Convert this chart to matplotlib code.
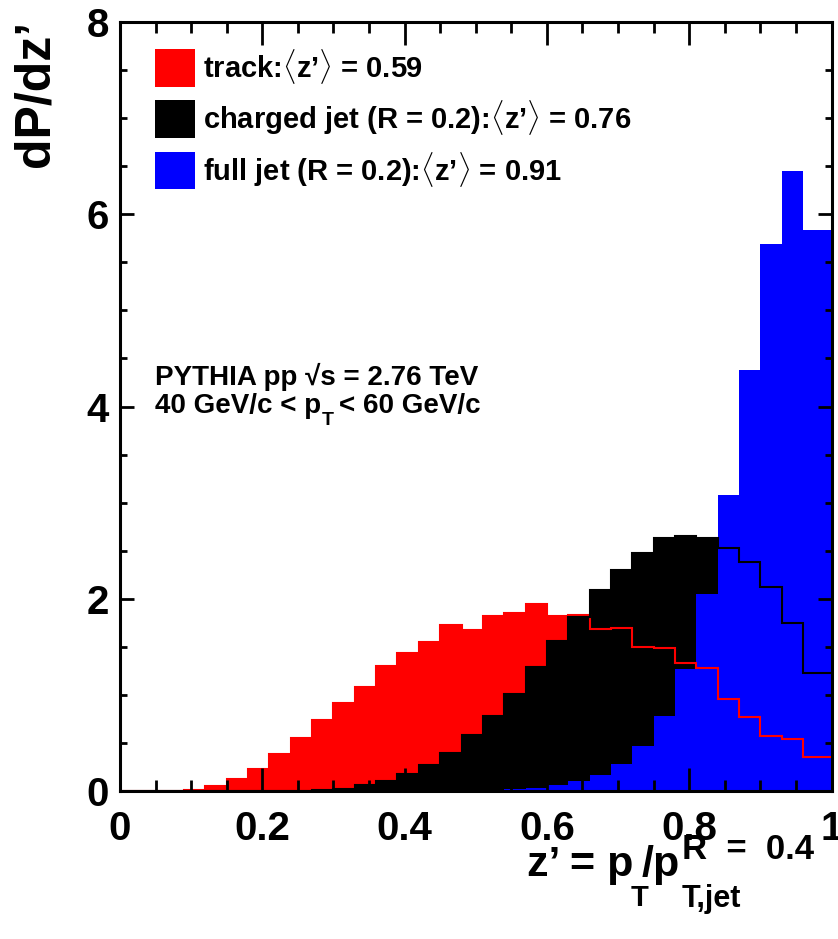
import numpy as np
import matplotlib
matplotlib.use("Agg")
import matplotlib.pyplot as plt
from matplotlib.patches import Rectangle
from matplotlib.ticker import MultipleLocator, FuncFormatter

plt.rcParams['font.family'] = ['Liberation Sans', 'DejaVu Sans']
plt.rcParams['font.weight'] = 'bold'
plt.rcParams['mathtext.fontset'] = 'custom'
plt.rcParams['mathtext.rm'] = 'Liberation Sans:bold'
plt.rcParams['mathtext.it'] = 'Liberation Sans:bold'
plt.rcParams['mathtext.bf'] = 'Liberation Sans:bold'
plt.rcParams['mathtext.sf'] = 'Liberation Sans:bold'

# bins of width 0.03 from 0 to 1.02 (last one clipped at z' = 1)
bin_width = 0.03
n_bins = 34
edges = np.arange(n_bins + 1) * bin_width

track = [0, 0.001, 0.005, 0.015, 0.05, 0.125, 0.234, 0.38, 0.547, 0.735,
         0.912, 1.083, 1.297, 1.44, 1.55, 1.727, 1.675, 1.817, 1.85, 1.946,
         1.82, 1.83, 1.69, 1.70, 1.50, 1.485, 1.33, 1.275, 0.96, 0.77,
         0.57, 0.54, 0.35, 0.35]
charged_jet = [0, 0, 0, 0, 0, 0, 0, 0, 0.004, 0.01,
               0.025, 0.06, 0.10, 0.174, 0.268, 0.40, 0.58, 0.776, 1.01, 1.29,
               1.563, 1.81, 2.087, 2.30, 2.48, 2.63, 2.65, 2.627, 2.53, 2.38,
               2.12, 1.745, 1.23, 1.23]
full_jet = [0, 0, 0, 0, 0, 0, 0, 0, 0, 0,
            0, 0, 0, 0.003, 0.005, 0.008, 0.012, 0.015, 0.025, 0.035,
            0.06, 0.10, 0.17, 0.285, 0.465, 0.776, 1.27, 2.045, 3.08, 4.375,
            5.69, 6.45, 5.84, 5.84]

labels = [u"track:$\\langle$z\u2019$\\rangle$ = 0.59",
          u"charged jet (R = 0.2):$\\langle$z\u2019$\\rangle$ = 0.76",
          u"full jet (R = 0.2):$\\langle$z\u2019$\\rangle$ = 0.91"]
colors = ['#ff0000', '#000000', '#0000ff']

W, H = 838, 939
fig = plt.figure(figsize=(W / 100, H / 100), dpi=100)
ax = fig.add_axes([120 / W, 1 - 791 / H, 711.5 / W, 769 / H])

# filled histograms, then outlines of the first two on top
ax.stairs(track, edges, fill=True, color=colors[0], lw=0)
ax.stairs(charged_jet, edges, fill=True, color=colors[1], lw=0)
ax.stairs(full_jet, edges, fill=True, color=colors[2], lw=0)
ax.stairs(track, edges, color=colors[0], lw=1.5)
ax.stairs(charged_jet, edges, color=colors[1], lw=1.5)

ax.set_xlim(0, 1)
ax.set_ylim(0, 8)
ax.xaxis.set_major_locator(MultipleLocator(0.2))
ax.xaxis.set_minor_locator(MultipleLocator(0.05))
ax.yaxis.set_major_locator(MultipleLocator(2))
ax.yaxis.set_minor_locator(MultipleLocator(0.5))
ax.xaxis.set_major_formatter(FuncFormatter(lambda v, p: '%g' % v))
ax.yaxis.set_major_formatter(FuncFormatter(lambda v, p: '%g' % v))

for s in ax.spines.values():
    s.set_linewidth(2.2)
ax.tick_params(which='both', direction='in', top=True, right=True, width=2,
               labelsize=29)
ax.tick_params(axis='x', which='major', length=16.5, pad=14)
ax.tick_params(axis='x', which='minor', length=8)
ax.tick_params(axis='y', which='major', length=10, pad=8)
ax.tick_params(axis='y', which='minor', length=5)
for lab in ax.get_xticklabels() + ax.get_yticklabels():
    lab.set_fontweight('bold')

# legend drawn by hand, ROOT style
rows_y = [86.7, 137.7, 189.0]
for lab, c, yb in zip(labels, colors, rows_y):
    fig.add_artist(Rectangle((155 / W, 1 - yb / H), 40 / W, 37.4 / H,
                             transform=fig.transFigure, color=c, lw=0))
    fig.text(203 / W, 1 - (yb - 9) / H, lab, fontsize=21, fontweight='bold',
             va='baseline', ha='left')

fig.text(155 / W, 1 - 385 / H, u"PYTHIA pp \u221as = 2.76 TeV", fontsize=20,
         fontweight='bold', va='baseline')
t_a = fig.text(155 / W, 1 - 413 / H, u"40 GeV/c < p", fontsize=20,
               fontweight='bold', va='baseline')
fig.canvas.draw()
r = fig.canvas.get_renderer()
bb = t_a.get_window_extent(r)
t_b = fig.text((bb.x1 + 1) / W, 1 - 425 / H, "T", fontsize=14,
               fontweight='bold', va='baseline')
bb = t_b.get_window_extent(r)
fig.text((bb.x1 + 5) / W, 1 - 413 / H, u"< 60 GeV/c", fontsize=20,
         fontweight='bold', va='baseline')

fig.text(13 / W, 1 - 20 / H, u"dP/dz\u2019", fontsize=36, fontweight='bold',
         rotation=90, ha='left', va='top')

# x title built piece by piece: ROOT puts sub/superscripts far apart
pieces = [(u"z\u2019 = p", 31, 876, 0), ("T", 21, 906, -3),
          ("/p", 31, 876, -7), ("T,jet", 22, 907, 2)]
x = 527.0
x_start = x
for txt, fs, yb, dx in pieces:
    t = fig.text((x + dx) / W, 1 - yb / H, txt, fontsize=fs,
                 fontweight='bold', va='baseline', ha='left')
    bb = t.get_window_extent(r)
    x_start = x + dx
    x = bb.x1
fig.text(x_start / W, 1 - 859 / H, "R  =  0.4", fontsize=25,
         fontweight='bold', va='baseline', ha='left')

fig.savefig("out.png", dpi=100)
